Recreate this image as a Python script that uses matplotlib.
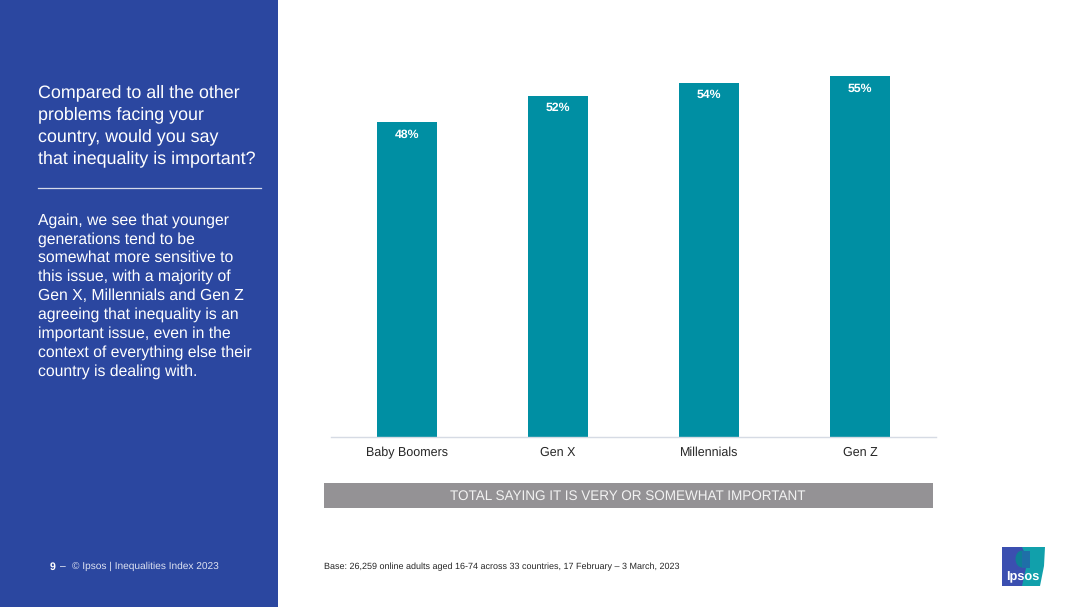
import matplotlib
matplotlib.use("Agg")
import matplotlib.pyplot as plt
from matplotlib.patches import Rectangle, Polygon, Ellipse

plt.rcParams["font.family"] = ["Liberation Sans", "DejaVu Sans"]
plt.rcParams["text.hinting"] = "no_hinting"

# data
generations = ["Baby Boomers", "Gen X", "Millennials", "Gen Z"]
important_pct = [48, 52, 54, 55]

question = "Compared to all the other\nproblems facing your\ncountry, would you say\nthat inequality is important?"
body = ("Again, we see that younger\ngenerations tend to be\nsomewhat more sensitive to\n"
        "this issue, with a majority of\nGen X, Millennials and Gen Z\nagreeing that inequality is an\n"
        "important issue, even in the\ncontext of everything else their\ncountry is dealing with.")
banner = "TOTAL SAYING IT IS VERY OR SOMEWHAT IMPORTANT"
base_note = "Base: 26,259 online adults aged 16-74 across 33 countries, 17 February \u2013 3 March, 2023"

W, H = 1080, 607
BLUE = "#2b47a0"
TEAL = "#008fa3"

fig = plt.figure(figsize=(W / 100, H / 100), dpi=100, facecolor="white")

# full-figure layer in pixel coordinates for the slide furniture
bg = fig.add_axes([0, 0, 1, 1])
bg.set_xlim(0, W)
bg.set_ylim(H, 0)
bg.axis("off")

bg.add_patch(Rectangle((0, 0), 278, H, color=BLUE, lw=0))
bg.text(38, 125.5, question, color="white", fontsize=12.9, va="center", linespacing=1.41)
bg.plot([38, 261], [188, 188], color="#d5daea", lw=0.9)
bg.text(38, 296, body, color="white", fontsize=11.3, va="center", linespacing=1.35)

bg.text(50, 566, "9", color="white", fontsize=7.6, fontweight="bold", va="center_baseline")
bg.text(63, 566.5, "\u2013", color="white", fontsize=7.4, va="center", ha="center")
bg.text(72, 566.5, "\u00a9 Ipsos | Inequalities Index 2023", color="#dfe3f2", fontsize=7.3, va="center")
bg.text(324.5, 566.5, base_note, color="#262626", fontsize=6.52, va="center")

bg.add_patch(Rectangle((324, 483), 609, 24.5, color="#949295", lw=0))
bg.text(628, 496, banner, color="#f2f2f2", fontsize=9.75, ha="center", va="center")

# logo
bg.add_patch(Polygon([(1002, 547), (1045, 547), (1044, 566), (1040, 586), (1002, 586)],
                     closed=True, color="#11a0ab", lw=0))
bg.add_patch(Polygon([(1002, 547), (1022, 547), (1026, 556), (1026, 568), (1022, 586), (1002, 586)],
                     closed=True, color="#3b4fb0", lw=0))
bg.add_patch(Ellipse((1022, 559), 13, 17, color="#0f7f96", lw=0))
bg.add_patch(Rectangle((1022, 551), 8, 17, color="#1f6fa8", lw=0))
bg.text(1022.5, 577, "Ipsos", color="white", fontsize=9.2, fontweight="bold", ha="center", va="center")

# chart
ax = fig.add_axes([331 / W, 1 - 437 / H, 605 / W, 361 / H])
ax.patch.set_alpha(0)
bars = ax.bar(range(len(generations)), important_pct, width=0.397, color=TEAL)
ax.set_xlim(-0.5, 3.5)
ax.set_ylim(0, 55)
for spine in ["top", "left", "right"]:
    ax.spines[spine].set_visible(False)
ax.spines["bottom"].set_color("#d6dbe4")
ax.spines["bottom"].set_linewidth(1)
ax.set_yticks([])
ax.set_xticks(range(len(generations)))
ax.set_xticklabels(generations, fontsize=9, color="#262626")
ax.tick_params(axis="x", length=0, pad=7)
ax.bar_label(bars, labels=[f"{v}%" for v in important_pct], label_type="edge", padding=-13,
             color="white", fontsize=8.8, fontweight="bold")

fig.savefig("out.png", dpi=100)
